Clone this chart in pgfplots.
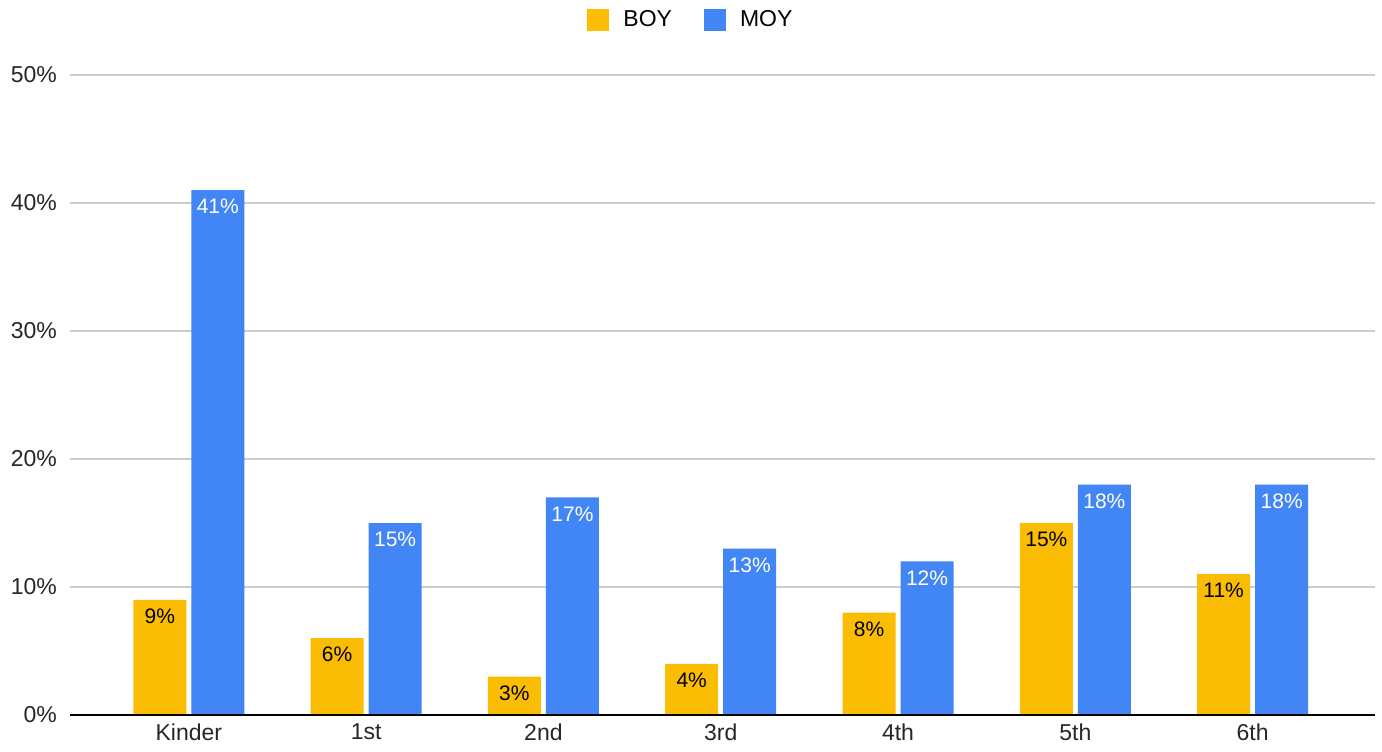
\documentclass[border=0pt]{standalone}
\usepackage{pgfplots}
\pgfplotsset{compat=1.18}
\usepackage{fontspec}
\setmainfont{Liberation Sans}

\definecolor{boyc}{HTML}{FBBC04}
\definecolor{moyc}{HTML}{4285F4}
\definecolor{gridc}{HTML}{CCCCCC}

\begin{document}
\begin{tikzpicture}
\path[use as bounding box] (-35pt,-18pt) rectangle (656pt,357.5pt);
\begin{axis}[
  at={(0,0)}, anchor=south west,
  scale only axis,
  width=652.5pt, height=320pt,
  xmin=-0.67, xmax=6.69,
  ymin=0, ymax=50,
  xtick={0,...,6},
  xticklabels={Kinder,1st,2nd,3rd,4th,5th,6th},
  ytick={0,10,...,50},
  yticklabel={\pgfmathprintnumber{\tick}\%},
  /pgf/number format/assume math mode=true,
  major tick length=0pt,
  axis line style={draw=none},
  ymajorgrids,
  grid style={gridc, line width=0.6pt},
  tick label style={font=\fontsize{11.5}{13}\selectfont, text=black!85},
  yticklabel style={xshift=-3pt},
  xticklabel style={yshift=-1pt},
  legend columns=-1,
  legend style={draw=none, fill=none, at={(0.4766,1.086)}, anchor=center,
    font=\fontsize{11.5}{13}\selectfont, column sep=14pt,
    /tikz/every odd column/.append style={column sep=5pt}},
  legend image code/.code={\fill[#1] (0pt,-5.5pt) rectangle (11pt,5.5pt);},
  nodes near coords={\pgfmathprintnumber{\pgfplotspointmeta}\%},
  every node near coord/.append style={anchor=north, yshift=-1pt,
    font=\fontsize{10.5}{12}\selectfont},
  clip=false,
]
\addplot[ybar, bar width=26.5pt, bar shift=-14.5pt, fill=boyc, draw=none,
  nodes near coords style={text=black, xshift=-14.5pt}]
  coordinates {(0,9) (1,6) (2,3) (3,4) (4,8) (5,15) (6,11)};
\addlegendentry{BOY}
\addplot[ybar, bar width=26.5pt, bar shift=14.5pt, fill=moyc, draw=none,
  nodes near coords style={text=white, xshift=14.5pt}]
  coordinates {(0,41) (1,15) (2,17) (3,13) (4,12) (5,18) (6,18)};
\addlegendentry{MOY}
\draw[black, line width=0.8pt] (rel axis cs:0,0) -- (rel axis cs:1,0);
\end{axis}
\end{tikzpicture}
\end{document}
